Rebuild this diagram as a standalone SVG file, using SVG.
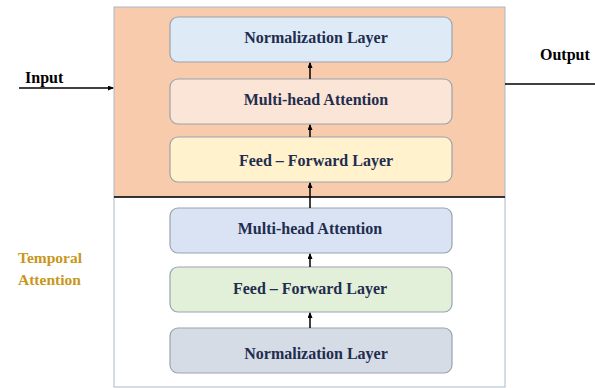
<svg xmlns="http://www.w3.org/2000/svg" width="595" height="388" viewBox="0 0 595 388">
<defs>
<style>
.node rect{stroke:#9AA3AE;stroke-width:1.2}
.node text{font-family:"Liberation Serif","Times New Roman",serif;font-weight:bold;font-size:16px;fill:#1F2D4F;text-anchor:middle}
.conn line{stroke:#000;stroke-width:1.5}
.lbl{font-family:"Liberation Serif","Times New Roman",serif;font-weight:bold;font-size:16px;fill:#000}
.gold{font-family:"Liberation Serif","Times New Roman",serif;font-weight:bold;font-size:15.5px;fill:#C9961A}
</style>
<marker id="ah" markerWidth="6" markerHeight="5" refX="5" refY="2.5" orient="auto" markerUnits="userSpaceOnUse">
<path d="M0,0 L6,2.5 L0,5 Z" fill="#000"/>
</marker>
</defs>
<rect width="595" height="388" fill="#fff"/>
<g id="encoder-block">
<rect x="114" y="7" width="391" height="190" fill="#F8CBAD" stroke="#A9B8C8" stroke-width="1"/>
</g>
<g id="temporal-block">
<rect x="114" y="197" width="391" height="190" fill="#fff" stroke="#A9B8C8" stroke-width="1"/>
<text class="gold" x="18" y="263">Temporal</text>
<text class="gold" x="18" y="285">Attention</text>
</g>
<g id="norm-top" class="node">
<rect x="170" y="17" width="282" height="45" rx="8" fill="#DEEBF7"/>
<text x="316" y="43">Normalization Layer</text>
</g>
<g id="mha-top" class="node">
<rect x="170" y="79" width="282" height="45" rx="8" fill="#FBE5D6"/>
<text x="316" y="105">Multi-head Attention</text>
</g>
<g id="ff-top" class="node">
<rect x="170" y="137" width="282" height="45" rx="8" fill="#FFF2CC"/>
<text x="316" y="166">Feed – Forward Layer</text>
</g>
<g id="mha-bottom" class="node">
<rect x="170" y="208" width="282" height="45" rx="8" fill="#DAE3F3"/>
<text x="310" y="234">Multi-head Attention</text>
</g>
<g id="ff-bottom" class="node">
<rect x="170" y="267" width="282" height="45" rx="8" fill="#E2F0D9"/>
<text x="310" y="294">Feed – Forward Layer</text>
</g>
<g id="norm-bottom" class="node">
<rect x="170" y="328" width="282" height="45" rx="8" fill="#D6DCE5"/>
<text x="316" y="358.5">Normalization Layer</text>
</g>
<g id="input-label"><text class="lbl" x="25" y="83">Input</text></g>
<g id="output-label"><text class="lbl" x="540" y="60">Output</text></g>
<g id="connectors" class="conn">
<line x1="114" y1="197" x2="505" y2="197"/>
<line x1="19" y1="88" x2="113" y2="88" marker-end="url(#ah)"/>
<line x1="505" y1="84" x2="595" y2="84"/>
<line x1="310" y1="328" x2="310" y2="313" marker-end="url(#ah)"/>
<line x1="310" y1="267" x2="310" y2="254" marker-end="url(#ah)"/>
<line x1="310" y1="208" x2="310" y2="183" marker-end="url(#ah)"/>
<line x1="310" y1="137" x2="310" y2="125" marker-end="url(#ah)"/>
<line x1="310" y1="79" x2="310" y2="63" marker-end="url(#ah)"/>
</g>
</svg>
